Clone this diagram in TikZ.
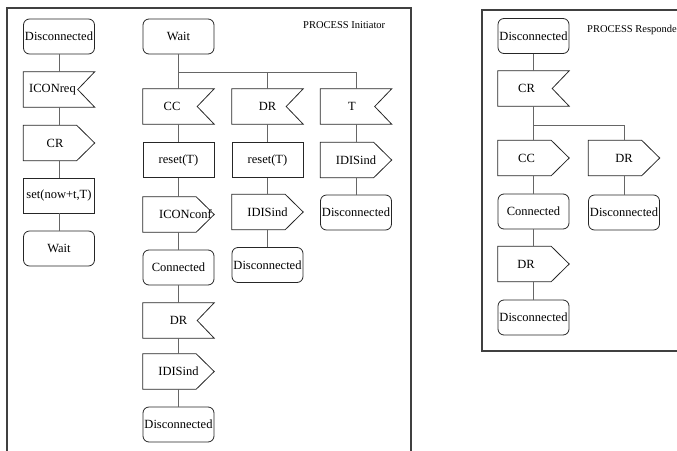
\documentclass[tikz,border=0pt]{standalone}
\usepackage{fontspec}
\setmainfont{Liberation Serif}
\tikzset{
  sdlbox/.style={rectangle,minimum width=71,minimum height=35,inner sep=0pt,font=\fontsize{12.5}{14}\selectfont},
  sdlline/.style={draw=black!85,line width=.8pt},
  state/.style={sdlbox,sdlline,rounded corners=6pt},
  task/.style={sdlbox,sdlline},
  sigin/.style={sdlbox,append after command={\pgfextra{\draw[sdlline](\tikzlastnode.north west)--(\tikzlastnode.north east)--([xshift=-17pt]\tikzlastnode.east)--(\tikzlastnode.south east)--(\tikzlastnode.south west)--cycle;}}},
  sigout/.style={sdlbox,append after command={\pgfextra{\draw[sdlline](\tikzlastnode.north west)--([xshift=-18pt]\tikzlastnode.north east)--(\tikzlastnode.east)--([xshift=-18pt]\tikzlastnode.south east)--(\tikzlastnode.south west)--cycle;}}},
  tl/.style={execute at end node=\hspace*{#1}},
  tr/.style={execute at begin node=\hspace*{#1}},
  link/.style={draw=black!60,line width=.8pt},
  frame/.style={draw=black!75,line width=1.3pt},
  title/.style={font=\fontsize{10.5}{12}\selectfont,anchor=west,inner sep=0pt}
}
\begin{document}
\begin{tikzpicture}[x=1pt,y=-1pt]
\useasboundingbox(0,0)rectangle(677,450);
\clip(0,0)rectangle(677,450);
%frames
\draw[frame](7,8)rectangle(411,470);
\draw[frame](482,10)rectangle(700,351);
\node[title](ttl1)at(303,25){PROCESS Initiator};
\node[title](ttl2)at(587,30){PROCESS Responder};
%initiator
\node[state](dis1)at(59,36.5){Disconnected};
\node[sigin,tl=13pt](iconreq)at(59,89.5){ICONreq};
\node[sigout,tl=8pt](cr1)at(59,143){CR};
\node[task](set1)at(59,195.5){set(now+t,T)};
\node[state](wait1)at(59,248.5){Wait};
\node[state](wait2)at(178.5,36.5){Wait};
\coordinate(fork1)at(178.5,72);
\node[sigin,tl=13pt](cc1)at(178.5,106.5){CC};
\node[sigin](dr1)at(267.5,106.5){DR};
\node[sigin,tl=8pt](t1)at(356,106.5){T};
\node[task](reset1)at(178.5,160){reset(T)};
\node[task](reset2)at(267.5,160){reset(T)};
\node[sigout](idis1)at(356,160){IDISind};
\node[sigout,tr=14pt](iconconf)at(178.5,214.5){ICONconf};
\node[sigout](idis2)at(267.5,212){IDISind};
\node[state](dis2)at(356,212.5){Disconnected};
\node[state](conn1)at(178.5,267.5){Connected};
\node[state](dis3)at(267.5,265){Disconnected};
\node[sigin](dr2)at(178.5,320.5){DR};
\node[sigout](idis3)at(178.5,371.5){IDISind};
\node[state](dis4)at(178.5,424.5){Disconnected};
%responder
\node[state](dis5)at(533.5,36){Disconnected};
\node[sigin,tl=14pt](cr2)at(533.5,88.5){CR};
\coordinate(fork2)at(533.5,125);
\node[sigout,tl=14pt](cc2)at(533.5,158){CC};
\node[sigout](dr3)at(624,158){DR};
\node[state](conn2)at(533.5,211.5){Connected};
\node[state](dis6)at(624,212.5){Disconnected};
\node[sigout,tl=15pt](dr4)at(533.5,264){DR};
\node[state](dis7)at(533.5,317.5){Disconnected};
%links
\draw[link](dis1.south)--(iconreq.north);
\draw[link](iconreq.south)--(cr1.north);
\draw[link](cr1.south)--(set1.north);
\draw[link](set1.south)--(wait1.north);
\draw[link](wait2.south)--(cc1.north);
\draw[link](fork1)-|(dr1.north);
\draw[link](fork1)-|(t1.north);
\draw[link](cc1.south)--(reset1.north);
\draw[link](reset1.south)--(iconconf.north);
\draw[link](iconconf.south)--(conn1.north);
\draw[link](conn1.south)--(dr2.north);
\draw[link](dr2.south)--(idis3.north);
\draw[link](idis3.south)--(dis4.north);
\draw[link](dr1.south)--(reset2.north);
\draw[link](reset2.south)--(idis2.north);
\draw[link](idis2.south)--(dis3.north);
\draw[link](t1.south)--(idis1.north);
\draw[link](idis1.south)--(dis2.north);
\draw[link](dis5.south)--(cr2.north);
\draw[link](cr2.south)--(cc2.north);
\draw[link](fork2)-|(dr3.north);
\draw[link](cc2.south)--(conn2.north);
\draw[link](conn2.south)--(dr4.north);
\draw[link](dr4.south)--(dis7.north);
\draw[link](dr3.south)--(dis6.north);
\end{tikzpicture}
\end{document}
